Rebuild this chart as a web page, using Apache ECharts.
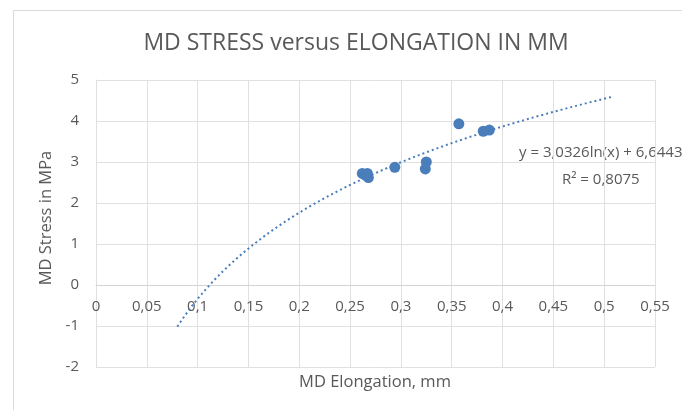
<!DOCTYPE html>
<html>
<head>
<meta charset="utf-8">
<script src="https://cdn.jsdelivr.net/npm/echarts@6/dist/echarts.min.js"></script>
<style>
  html, body { margin: 0; padding: 0; background: #fff; }
  #chart { width: 682px; height: 410px; }
</style>
</head>
<body>
<div id="chart"></div>
<script>
// measured points (elongation mm, stress MPa)
const elongation = [0.262, 0.265, 0.268, 0.267, 0.294, 0.325, 0.324, 0.357, 0.381, 0.387]
const stress = [2.72, 2.68, 2.62, 2.72, 2.87, 3.0, 2.83, 3.93, 3.75, 3.78]

// log trendline as printed on the chart: y = a ln(x) + b
const trendA = 3.0326
const trendB = 6.6443
const trendFrom = 0.08
const trendTo = 0.508
const trendText = 'y = 3,0326ln(x) + 6,6443'
const r2Text = 'R² = 0,8075'

const trendPts = []
for (let i = 0; i <= 60; i++) {
  const x = trendFrom + (trendTo - trendFrom) * i / 60
  trendPts.push([x, trendA * Math.log(x) + trendB])
}

const chart = echarts.init(document.getElementById('chart'))
const grey = '#595959'
const gridGrey = '#e0e0e0'
const font = "'Open Sans', 'Liberation Sans', sans-serif"

chart.setOption({
  animation: false,
  title: {
    text: 'MD STRESS versus ELONGATION IN MM',
    left: 351,
    textAlign: 'center',
    top: 27,
    textStyle: { fontFamily: font, fontSize: 23, fontWeight: 'normal', color: grey }
  },
  grid: { left: 96, right: 27, top: 80, bottom: 43 },
  xAxis: {
    type: 'value',
    min: 0, max: 0.55, interval: 0.05,
    // labels sit under the zero line, like the excel chart
    offset: -82,
    axisLine: { onZero: false, lineStyle: { color: '#d4d4d4' } },
    axisTick: { show: false },
    axisLabel: {
      fontFamily: font, fontSize: 15, color: grey, margin: 14,
      formatter: v => String(+v.toFixed(2)).replace('.', ',')
    },
    splitLine: { show: true, lineStyle: { color: gridGrey } }
  },
  yAxis: {
    type: 'value',
    min: -2, max: 5, interval: 1,
    axisLine: { show: true, lineStyle: { color: gridGrey } },
    axisTick: { show: false },
    axisLabel: { fontFamily: font, fontSize: 15, color: grey, margin: 17 },
    splitLine: { show: true, lineStyle: { color: gridGrey } }
  },
  graphic: [
    {
      type: 'rect',
      shape: { x: 13.5, y: 10.5, width: 700, height: 420 },
      style: { fill: 'none', stroke: '#d9d9d9', lineWidth: 1 },
      silent: true, z: -1
    },
    {
      type: 'text', left: 519, top: 145,
      style: { text: trendText, fontFamily: font, fontSize: 15, fill: grey }
    },
    {
      type: 'text', left: 562, top: 172,
      style: { text: r2Text, fontFamily: font, fontSize: 15, fill: grey }
    },
    {
      type: 'text', x: 375, y: 382,
      style: {
        text: 'MD Elongation, mm', fontFamily: font, fontSize: 16.5, fill: grey,
        align: 'center', verticalAlign: 'middle'
      }
    },
    {
      type: 'text', x: 46, y: 218, rotation: Math.PI / 2,
      style: {
        text: 'MD Stress in MPa', fontFamily: font, fontSize: 16.5, fill: grey,
        align: 'center', verticalAlign: 'middle'
      }
    }
  ],
  series: [
    {
      type: 'line',
      data: trendPts,
      showSymbol: false,
      lineStyle: { color: '#4a7ebb', width: 2, type: [2, 3] },
      z: 1
    },
    {
      type: 'scatter',
      data: elongation.map((x, i) => [x, stress[i]]),
      symbolSize: 11,
      itemStyle: { color: '#4a7ebb', opacity: 1 },
      z: 2
    }
  ]
})
</script>
</body>
</html>
